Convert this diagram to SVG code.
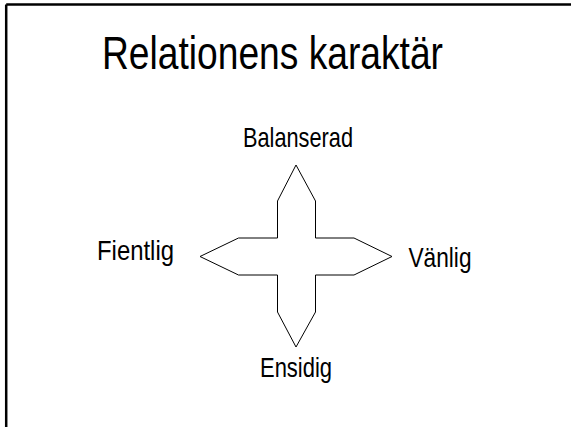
<svg xmlns="http://www.w3.org/2000/svg" width="571" height="427" viewBox="0 0 571 427">
<style>
text{font-family:"Liberation Sans Narrow","Liberation Sans",Arial,sans-serif;fill:#000}
.lbl{font-size:28px}
</style>
<rect width="571" height="427" fill="#fff"/>
<g id="frame" stroke="#000" stroke-width="2.5" fill="none">
<line x1="6.2" y1="4.5" x2="571" y2="4.5"/>
<line x1="6.2" y1="4.5" x2="6.2" y2="427"/>
</g>
<g id="title"><text x="102" y="68.5" font-size="47" textLength="341" lengthAdjust="spacingAndGlyphs">Relationens karaktär</text></g>
<g id="star"><polygon points="296,165 315.5,201 315.5,238 354,238 392,256.5 354,275 315.5,275 315.5,312 296,347 277.5,312 277.5,275 238.5,275 200,256.5 238.5,238 277.5,238 277.5,201" fill="#fff" stroke="#000" stroke-width="1"/></g>
<g id="balanserad"><text class="lbl" x="243" y="146.5" textLength="110" lengthAdjust="spacingAndGlyphs">Balanserad</text></g>
<g id="ensidig"><text class="lbl" x="260" y="376.5" textLength="72" lengthAdjust="spacingAndGlyphs">Ensidig</text></g>
<g id="fientlig"><text class="lbl" x="97" y="260" textLength="77" lengthAdjust="spacingAndGlyphs">Fientlig</text></g>
<g id="vanlig"><text class="lbl" x="408.5" y="266.5" textLength="63" lengthAdjust="spacingAndGlyphs">Vänlig</text></g>
</svg>
